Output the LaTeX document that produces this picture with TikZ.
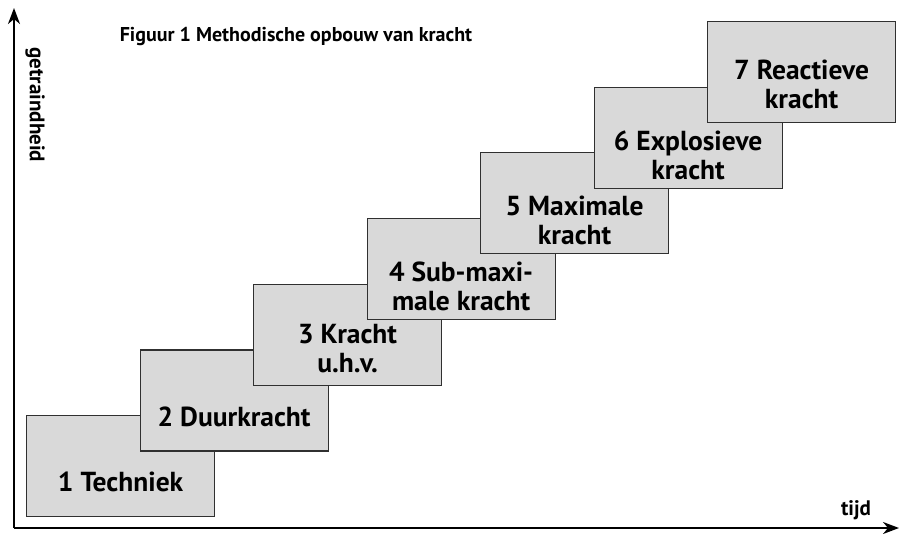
\documentclass[tikz,border=0pt]{standalone}
\usepackage{fontspec}
\setmainfont{PT Sans}
\usetikzlibrary{arrows.meta}
\definecolor{boxfill}{HTML}{D9D9D9}
\definecolor{boxline}{HTML}{303030}
\begin{document}
\begin{tikzpicture}[x=1pt,y=-1pt,
  stepbox/.style={draw=boxline,line width=1.2pt,fill=boxfill,rectangle,
    minimum width=188pt,minimum height=101pt,inner sep=0pt,anchor=north west},
  steptext/.style={font=\fontsize{27.5}{29}\selectfont\bfseries,align=center,inner sep=0pt},
  axis/.style={line width=2pt,-{Stealth[length=16pt,width=12pt,inset=5pt]}},
  lab/.style={font=\fontsize{21}{23}\selectfont\bfseries,inner sep=0pt}]
\useasboundingbox (0,0) rectangle (901,533);
\node[stepbox] (b1) at (26,415) {};
\node[steptext] (t1) at ([yshift=-16pt]b1.center) {1 Techniek};
\node[stepbox] (b2) at (139.5,349.3) {};
\node[steptext] (t2) at ([yshift=-16pt]b2.center) {2 Duurkracht};
\node[stepbox] (b3) at (253,283.6) {};
\node[steptext] (t3) at ([yshift=-14pt]b3.center) {3 Kracht\\u.h.v.};
\node[stepbox] (b4) at (366.5,217.9) {};
\node[steptext] (t4) at ([yshift=-17pt]b4.center) {4 Sub-maxi-\\male kracht};
\node[stepbox] (b5) at (480,152.2) {};
\node[steptext] (t5) at ([yshift=-17pt]b5.center) {5 Maximale\\kracht};
\node[stepbox] (b6) at (593.5,86.5) {};
\node[steptext] (t6) at ([yshift=-18pt]b6.center) {6 Explosieve\\kracht};
\node[stepbox] (b7) at (707,20.8) {};
\node[steptext] (t7) at ([yshift=-13pt]b7.center) {7 Reactieve\\kracht};
\coordinate (o) at (14,528);
\coordinate (ytop) at (14,8);
\coordinate (xend) at (899,528);
\draw[axis] (o) -- (ytop);
\draw[axis] (o) -- (xend);
\node[lab,rotate=-90] (ylab) at (35,105) {getraindheid};
\node[lab] (xlab) at (856,510) {tijd};
\node[font=\fontsize{20}{22}\selectfont\bfseries,inner sep=0pt] (title) at (296,36) {Figuur 1 Methodische opbouw van kracht};
\end{tikzpicture}
\end{document}
